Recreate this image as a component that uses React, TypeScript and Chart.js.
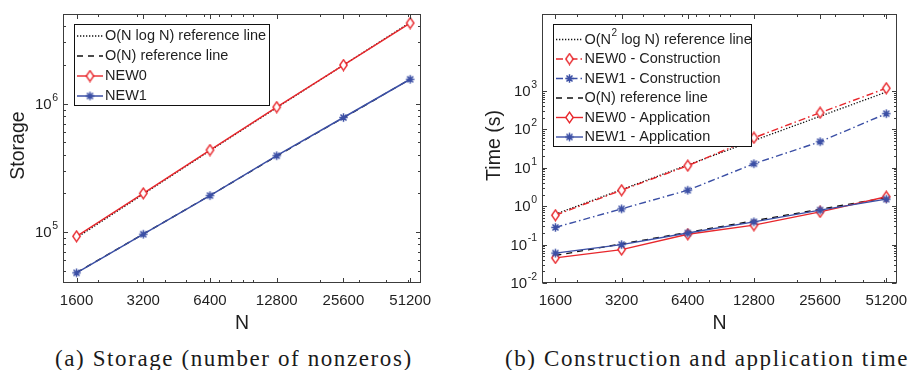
import React, { useEffect, useRef } from 'react';
import { Chart, registerables } from 'chart.js';
Chart.register(...registerables);

// ---------- data ----------
const N = [1600, 3200, 6400, 12800, 25600, 51200];
const xTickLabels = ['1600', '3200', '6400', '12800', '25600', '51200'];

// (a) storage
const storageRefNlogN = [9.0e4, 1.97e5, 4.3e5, 9.3e5, 2.0e6, 4.3e6];
const storageRefN = [4.82e4, 9.62e4, 1.925e5, 3.9e5, 7.76e5, 1.55e6];
const storageNEW0 = [9.25e4, 2.0e5, 4.35e5, 9.4e5, 2.0e6, 4.25e6];
const storageNEW1 = [4.8e4, 9.6e4, 1.92e5, 3.93e5, 7.8e5, 1.55e6];
const storageYExp = [5, 6];

// (b) time
const timeRefN2logN = [0.62, 2.7, 11.8, 51, 218, 930];
const timeNEW0Constr = [0.58, 2.6, 11.3, 60, 270, 1170];
const timeNEW1Constr = [0.28, 0.85, 2.6, 12.7, 47.5, 255];
const timeRefN = [0.052, 0.104, 0.208, 0.416, 0.832, 1.66];
const timeNEW0Appl = [0.045, 0.074, 0.185, 0.32, 0.71, 1.75];
const timeNEW1Appl = [0.06, 0.1, 0.2, 0.39, 0.79, 1.52];
const timeYExp = [-2, -1, 0, 1, 2, 3];

// ---------- styles ----------
const RED = '#e8272c';
const BLUE = '#3b4fa5';
const BLACK = '#111111';
const AXIS = '#3c3c3c';
const TEXT = '#1f1f1f';
const FONT = '"Liberation Sans", Arial, Helvetica, sans-serif';
const DOT = [1.3, 1.7];
const DASH = [6, 5];
const DASHDOT = [7, 3, 1.5, 3];

type Marker = 'diamond' | 'star' | 'none';
type Series = { data: number[]; color: string; dash: number[]; marker: Marker; width: number; label: string; sup?: [string, string, string] };

function makeDiamond(color: string) {
  const c = document.createElement('canvas');
  c.width = 11; c.height = 13;
  const g = c.getContext('2d')!;
  g.beginPath();
  g.moveTo(5.5, 1.2); g.lineTo(9.2, 6.5); g.lineTo(5.5, 11.8); g.lineTo(1.8, 6.5); g.closePath();
  g.fillStyle = '#ffffff'; g.fill();
  g.strokeStyle = color; g.lineWidth = 1.4; g.stroke();
  return c;
}
function makeStar(color: string) {
  const c = document.createElement('canvas');
  c.width = 11; c.height = 11;
  const g = c.getContext('2d')!;
  g.strokeStyle = color; g.lineWidth = 1.5; g.lineCap = 'butt';
  const r = 4.2, d = 3.0, cx = 5.5, cy = 5.5;
  g.beginPath();
  g.moveTo(cx - r, cy); g.lineTo(cx + r, cy);
  g.moveTo(cx, cy - r); g.lineTo(cx, cy + r);
  g.moveTo(cx - d, cy - d); g.lineTo(cx + d, cy + d);
  g.moveTo(cx - d, cy + d); g.lineTo(cx + d, cy - d);
  g.stroke();
  return c;
}

type PanelCfg = {
  series: Series[]; // MATLAB plot order (later on top)
  legendOrder: number[];
  yMin: number; yMax: number; yExp: number[]; minorDecades: number[]; minorMax: number;
  padding: { left: number; right: number; top: number; bottom: number };
  ylabel: string; ylabelX: number;
  legend: { x: number; y: number; w: number; h: number; y0: number; dy: number; sx0: number; sx1: number; tx: number };
};

const XMIN = 1390, XMAX = 57300;

function buildChart(canvas: HTMLCanvasElement, cfg: PanelCfg) {
  const markers: Record<string, HTMLCanvasElement> = {
    diamond_red: makeDiamond(RED),
    star_blue: makeStar(BLUE),
  };
  const mk = (s: Series) => (s.marker === 'diamond' ? markers.diamond_red : s.marker === 'star' ? markers.star_blue : null);
  const nS = cfg.series.length;
  const datasets = cfg.series.map((s, i) => ({
    label: s.label,
    data: N.map((n, k) => ({ x: n, y: s.data[k] })),
    borderColor: s.color,
    backgroundColor: s.color,
    borderWidth: s.width,
    borderDash: s.dash,
    pointStyle: mk(s) || 'circle',
    pointRadius: s.marker === 'none' ? 0 : 5,
    tension: 0,
    fill: false,
    order: nS - i,
  }));

  const plugin = {
    id: 'matlabAxes',
    afterDatasetsDraw(chart: any) {
      const ctx: CanvasRenderingContext2D = chart.ctx;
      const a = chart.chartArea;
      const xs = chart.scales.x;
      const ys = chart.scales.y;
      ctx.save();
      ctx.setLineDash([]);
      ctx.strokeStyle = AXIS;
      ctx.lineWidth = 1;
      const seg = (x0: number, y0: number, x1: number, y1: number) => {
        ctx.beginPath(); ctx.moveTo(x0, y0); ctx.lineTo(x1, y1); ctx.stroke();
      };
      const L = Math.round(a.left) + 0.5, R = Math.round(a.right) - 0.5;
      const T = Math.round(a.top) + 0.5, B = Math.round(a.bottom) - 0.5;
      const xt = (v: number, len: number) => {
        const p = Math.round(xs.getPixelForValue(v)) + 0.5;
        seg(p, B, p, B - len); seg(p, T, p, T + len);
      };
      const yt = (v: number, len: number) => {
        const p = Math.round(ys.getPixelForValue(v)) + 0.5;
        seg(L, p, L + len, p); seg(R, p, R - len, p);
      };
      // x ticks
      for (const d of [1000, 10000]) {
        for (let m = 1; m <= 9; m++) {
          const v = m * d;
          if (v > XMIN && v < XMAX && !N.includes(v)) xt(v, 2.5);
        }
      }
      N.forEach((v) => xt(v, 4.5));
      // y ticks
      const majors = cfg.yExp.map((e) => Math.pow(10, e));
      for (const d of cfg.minorDecades) {
        for (let m = 2; m <= 9; m++) {
          const v = m * d;
          if (v > cfg.yMin && v < cfg.minorMax) yt(v, 2.5);
        }
      }
      majors.forEach((v) => yt(v, 4.5));
      // box
      ctx.strokeRect(L, T, R - L, B - T);

      // tick labels
      ctx.fillStyle = TEXT;
      ctx.font = `15px ${FONT}`;
      ctx.textAlign = 'center';
      ctx.textBaseline = 'middle';
      N.forEach((v, i) => {
        ctx.fillText(xTickLabels[i], xs.getPixelForValue(v), a.bottom + 18);
      });
      cfg.yExp.forEach((e) => {
        const p = ys.getPixelForValue(Math.pow(10, e));
        const right = a.left - 5;
        ctx.font = `10.5px ${FONT}`;
        const es = e < 0 ? '-' + String(-e) : String(e);
        const ew = ctx.measureText(es).width;
        ctx.textAlign = 'left';
        ctx.fillText(es, right - ew, p - 6);
        ctx.font = `15px ${FONT}`;
        ctx.textAlign = 'right';
        ctx.fillText('10', right - ew - 0.5, p + 1);
      });
      // axis labels
      ctx.font = `19.5px ${FONT}`;
      ctx.textAlign = 'center';
      ctx.fillText('N', (a.left + a.right) / 2, a.bottom + 41);
      ctx.save();
      ctx.translate(cfg.ylabelX, (a.top + a.bottom) / 2 - 3);
      ctx.rotate(-Math.PI / 2);
      ctx.fillText(cfg.ylabel, 0, 0);
      ctx.restore();

      // legend
      const lg = cfg.legend;
      ctx.fillStyle = '#ffffff';
      ctx.fillRect(lg.x, lg.y, lg.w, lg.h);
      ctx.strokeStyle = BLACK;
      ctx.lineWidth = 1;
      ctx.strokeRect(lg.x + 0.5, lg.y + 0.5, lg.w, lg.h);
      cfg.legendOrder.forEach((si, i) => {
        const s = cfg.series[si];
        const y = lg.y0 + i * lg.dy;
        ctx.strokeStyle = s.color;
        ctx.lineWidth = s.width;
        ctx.setLineDash(s.dash);
        seg(lg.sx0, y, lg.sx1, y);
        ctx.setLineDash([]);
        const img = mk(s);
        if (img) ctx.drawImage(img, (lg.sx0 + lg.sx1) / 2 - img.width / 2, y - img.height / 2);
        ctx.fillStyle = TEXT;
        ctx.textAlign = 'left';
        ctx.textBaseline = 'middle';
        ctx.font = `14.5px ${FONT}`;
        if (s.sup) {
          let x = lg.tx;
          ctx.fillText(s.sup[0], x, y);
          x += ctx.measureText(s.sup[0]).width;
          ctx.font = `10px ${FONT}`;
          ctx.fillText(s.sup[1], x + 0.5, y - 6);
          x += ctx.measureText(s.sup[1]).width + 0.5;
          ctx.font = `14.5px ${FONT}`;
          ctx.fillText(s.sup[2], x, y);
        } else {
          ctx.fillText(s.label, lg.tx, y);
        }
      });
      ctx.restore();
    },
  };

  return new Chart(canvas, {
    type: 'line',
    data: { datasets: datasets as any },
    options: {
      responsive: false,
      animation: false,
      events: [],
      layout: { padding: cfg.padding },
      plugins: { legend: { display: false }, tooltip: { enabled: false } },
      scales: {
        x: { type: 'logarithmic', min: XMIN, max: XMAX, display: false },
        y: { type: 'logarithmic', min: cfg.yMin, max: cfg.yMax, display: false },
      },
    },
    plugins: [plugin],
  } as any);
}

const storageSeries: Series[] = [
  { data: storageRefNlogN, color: BLACK, dash: DOT, marker: 'none', width: 1.3, label: 'O(N log N) reference line' },
  { data: storageRefN, color: BLACK, dash: DASH, marker: 'none', width: 1.3, label: 'O(N) reference line' },
  { data: storageNEW0, color: RED, dash: [], marker: 'diamond', width: 1.4, label: 'NEW0' },
  { data: storageNEW1, color: BLUE, dash: [], marker: 'star', width: 1.5, label: 'NEW1' },
];

const timeSeries: Series[] = [
  { data: timeRefN2logN, color: BLACK, dash: DOT, marker: 'none', width: 1.3, label: 'O(N2 log N) reference line', sup: ['O(N', '2', ' log N) reference line'] },
  { data: timeNEW0Constr, color: RED, dash: DASHDOT, marker: 'diamond', width: 1.4, label: 'NEW0 - Construction' },
  { data: timeNEW1Constr, color: BLUE, dash: DASHDOT, marker: 'star', width: 1.4, label: 'NEW1 - Construction' },
  { data: timeRefN, color: BLACK, dash: DASH, marker: 'none', width: 1.3, label: 'O(N) reference line' },
  { data: timeNEW0Appl, color: RED, dash: [], marker: 'diamond', width: 1.4, label: 'NEW0 - Application' },
  { data: timeNEW1Appl, color: BLUE, dash: [], marker: 'star', width: 1.4, label: 'NEW1 - Application' },
];

const leftCfg: PanelCfg = {
  series: storageSeries,
  legendOrder: [0, 1, 2, 3],
  yMin: 4.0e4, yMax: 5.0e6, yExp: storageYExp, minorDecades: [1e4, 1e5, 1e6], minorMax: 5.0e6,
  padding: { left: 63, right: 34, top: 14, bottom: 52 },
  ylabel: 'Storage', ylabelX: 19,
  legend: { x: 74, y: 24, w: 195, h: 81, y0: 36, dy: 20, sx0: 77, sx1: 103, tx: 105 },
};

const rightCfg: PanelCfg = {
  series: timeSeries,
  legendOrder: [0, 1, 2, 3, 4, 5],
  yMin: 1e-2, yMax: 1e5, yExp: timeYExp, minorDecades: [1e-2, 1e-1, 1, 10, 100], minorMax: 1e3,
  padding: { left: 87, right: 12, top: 14, bottom: 52 },
  ylabel: 'Time (s)', ylabelX: 40,
  legend: { x: 98, y: 24, w: 198, h: 122, y0: 39.5, dy: 19.5, sx0: 101, sx1: 128, tx: 129.5 },
};

function Panel({ cfg, left, width }: { cfg: PanelCfg; left: number; width: number }) {
  const ref = useRef<HTMLCanvasElement>(null);
  useEffect(() => {
    const chart = buildChart(ref.current!, cfg);
    return () => chart.destroy();
  }, [cfg]);
  return (
    <canvas
      ref={ref}
      width={width}
      height={335}
      style={{ position: 'absolute', left, top: 0, width, height: 335 }}
    />
  );
}

const captionStyle: React.CSSProperties = {
  position: 'absolute',
  top: 345,
  fontFamily: '"Liberation Serif", "DejaVu Serif", serif',
  fontSize: 23,
  letterSpacing: 1.6,
  lineHeight: '27px',
  whiteSpace: 'nowrap',
  color: '#1a1a1a',
};

export default function App() {
  return (
    <div style={{ position: 'fixed', left: 0, top: 0, width: 909, height: 370, background: '#fff', overflow: 'hidden' }}>
      <Panel cfg={leftCfg} left={0} width={455} />
      <Panel cfg={rightCfg} left={455} width={454} />
      <div style={{ ...captionStyle, left: 55 }}>(a) Storage (number of nonzeros)</div>
      <div style={{ ...captionStyle, left: 505 }}>(b) Construction and application time</div>
    </div>
  );
}
